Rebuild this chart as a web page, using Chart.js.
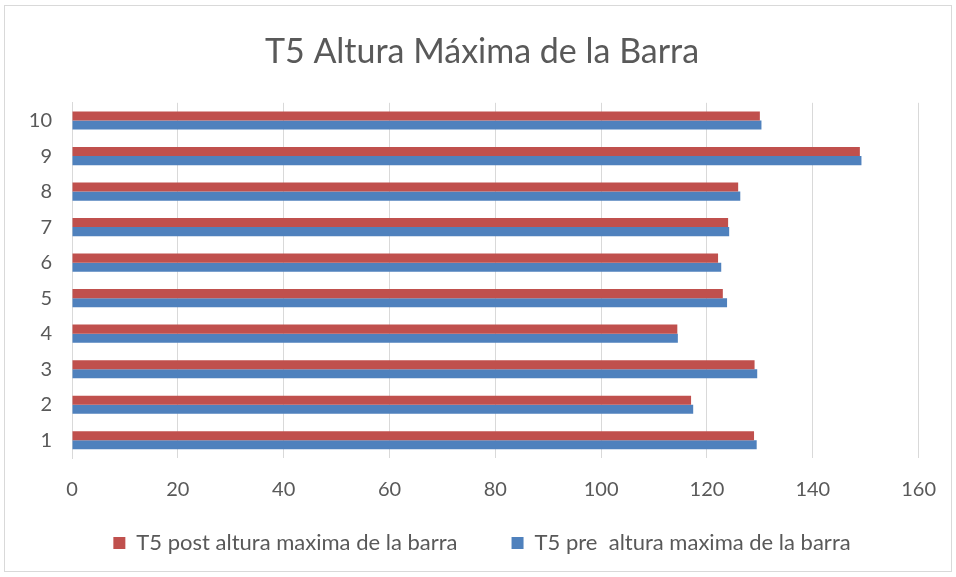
<!DOCTYPE html>
<html>
<head>
<meta charset="utf-8">
<script src="https://cdn.jsdelivr.net/npm/chart.js@4/dist/chart.umd.min.js"></script>
<style>
  html, body { margin: 0; padding: 0; background: #fff; }
  #wrap { position: relative; width: 956px; height: 577px; }
</style>
</head>
<body>
<div id="wrap"><canvas id="c" width="956" height="577"></canvas></div>
<script>
const categories = ['1', '2', '3', '4', '5', '6', '7', '8', '9', '10'];
const postValues = [128.9, 117.0, 129.0, 114.4, 123.0, 122.1, 124.0, 125.9, 148.9, 130.0];
const preValues  = [129.4, 117.4, 129.5, 114.5, 123.8, 122.7, 124.2, 126.3, 149.2, 130.3];
const xTicks = [0, 20, 40, 60, 80, 100, 120, 140, 160];

const seriesNames = ['T5 post altura maxima de la barra', 'T5 pre  altura maxima de la barra'];
const FONT = 'Lato, "Noto Sans", sans-serif';
const TEXT = '#595959';

const framePlugin = {
  id: 'frame',
  beforeDraw(chart) {
    // let tick labels draw outside their (deliberately narrow) scale boxes
    Object.values(chart.scales).forEach(s => { s._computeLabelArea = () => undefined; });
    const ctx = chart.ctx;
    ctx.save();
    ctx.fillStyle = '#ffffff';
    ctx.fillRect(0, 0, chart.width, chart.height);
    ctx.strokeStyle = '#D9D9D9';
    ctx.lineWidth = 1;
    ctx.strokeRect(4.5, 5.5, 947, 566);
    ctx.restore();
  }
};

new Chart(document.getElementById('c'), {
  type: 'bar',
  data: {
    labels: categories,
    datasets: [
      { label: seriesNames[0], data: postValues, backgroundColor: '#C0504D', borderWidth: 0 },
      { label: seriesNames[1], data: preValues, backgroundColor: '#4F81BD', borderWidth: 0 }
    ]
  },
  options: {
    indexAxis: 'y',
    responsive: false,
    animation: false,
    devicePixelRatio: 1,
    categoryPercentage: 0.51,
    barPercentage: 1.0,
    layout: { padding: { left: 44, right: 36, top: 0, bottom: 13 } },
    scales: {
      x: {
        min: 0, max: 160,
        afterBuildTicks(scale) { scale.ticks = xTicks.map(v => ({ value: v })); },
        grid: { color: '#D9D9D9', lineWidth: 1, drawTicks: false },
        border: { display: false },
        ticks: { color: TEXT, font: { family: FONT, size: 20 }, padding: 20 },
        afterFit(scale) { scale.height = 20; }
      },
      y: {
        reverse: true,
        grid: { display: false, drawTicks: false },
        border: { display: true, color: '#D9D9D9' },
        ticks: { color: TEXT, font: { family: FONT, size: 20 }, padding: 20 },
        afterFit(scale) { scale.width = 28; }
      }
    },
    plugins: {
      title: {
        display: true,
        text: 'T5 Altura Máxima de la Barra',
        color: TEXT,
        font: { family: FONT, size: 34, weight: 'normal' },
        padding: { top: 32, bottom: 30 }
      },
      legend: {
        position: 'bottom',
        labels: {
          color: TEXT,
          font: { family: FONT, size: 22 },
          boxWidth: 12, boxHeight: 12,
          padding: 54
        }
      },
      tooltip: { enabled: false }
    }
  },
  plugins: [framePlugin]
});
</script>
</body>
</html>
